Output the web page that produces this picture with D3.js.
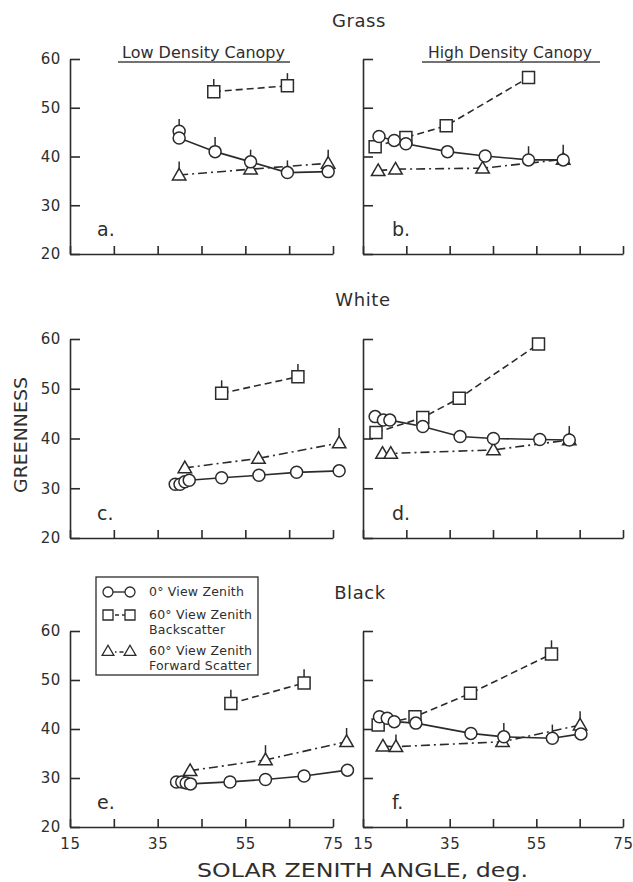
<!DOCTYPE html>
<html>
<head>
<meta charset="utf-8">
<script src="https://cdn.jsdelivr.net/npm/d3@7"></script>
<style>
  body { margin: 0; background: #fff; }
  svg { display: block; }
  text { font-family: "DejaVu Sans", sans-serif; fill: #2e2e2e; }
</style>
</head>
<body>
<svg id="chart" width="633" height="882"></svg>
<script>
// Greenness vs. solar zenith angle for three soil backgrounds (grass, white, black)
// under low and high density canopies. Each point: [solar zenith angle, greenness, error-bar length].

// Grass background
const grassLowNadir = [[39.9, 45.2, 2.5], [39.9, 43.8, 0], [48.1, 41.0, 3.0], [56.2, 38.9, 2.5], [64.6, 36.7, 2.5], [73.9, 36.9, 0]];
const grassLowBack  = [[47.8, 53.3, 2.6], [64.6, 54.5, 2.6]];
const grassLowFwd   = [[39.9, 36.2, 2.8], [56.2, 37.4, 0], [73.9, 38.6, 2.8]];
const grassHighNadir = [[18.7, 44.1, 0], [22.2, 43.3, 0], [24.9, 42.6, 0], [34.5, 41.0, 0], [43.2, 40.1, 0], [53.2, 39.3, 2.8], [61.2, 39.3, 0]];
const grassHighBack  = [[17.8, 42.0, 0], [24.9, 43.9, 0], [34.2, 46.3, 0], [53.2, 56.2, 0]];
const grassHighFwd   = [[18.5, 37.1, 0], [22.5, 37.4, 0], [42.6, 37.6, 0], [61.2, 39.4, 3.0]];

// White background
const whiteLowNadir = [[39.0, 30.8, 0], [40.1, 30.8, 0], [41.2, 31.3, 0], [42.2, 31.6, 0], [49.6, 32.1, 0], [58.1, 32.6, 0], [66.7, 33.2, 0], [76.4, 33.5, 0]];
const whiteLowBack  = [[49.6, 49.1, 2.6], [67.0, 52.4, 2.6]];
const whiteLowFwd   = [[41.2, 34.1, 0], [58.0, 36.0, 0], [76.4, 39.1, 3.0]];
const whiteHighNadir = [[17.8, 44.4, 0], [19.7, 43.7, 0], [21.2, 43.7, 0], [28.8, 42.4, 0], [37.4, 40.4, 0], [45.1, 40.0, 0], [55.8, 39.8, 0], [62.6, 39.7, 0]];
const whiteHighBack  = [[18.0, 41.2, 0], [28.8, 44.2, 0], [37.2, 48.1, 0], [55.5, 59.0, 0]];
const whiteHighFwd   = [[19.5, 37.0, 0], [21.4, 37.0, 0], [45.1, 37.7, 0], [62.6, 39.7, 2.8]];

// Black background
const blackLowNadir = [[39.3, 29.2, 0], [40.5, 29.2, 0], [41.5, 29.0, 0], [42.5, 28.8, 0], [51.5, 29.2, 0], [59.6, 29.7, 0], [68.4, 30.4, 0], [78.3, 31.6, 0]];
const blackLowBack  = [[51.7, 45.2, 2.8], [68.4, 49.4, 2.8]];
const blackLowFwd   = [[42.4, 31.5, 0], [59.6, 33.7, 3.0], [78.1, 37.4, 2.8]];
const blackHighNadir = [[18.8, 42.5, 0], [20.6, 42.2, 0], [22.2, 41.5, 0], [27.2, 41.2, 0], [39.9, 39.1, 0], [47.5, 38.4, 2.8], [58.7, 38.1, 2.8], [65.3, 39.0, 0]];
const blackHighBack  = [[18.5, 40.8, 0], [27.0, 42.5, 0], [39.8, 47.3, 0], [58.5, 55.3, 2.8]];
const blackHighFwd   = [[19.6, 36.5, 0], [22.6, 36.4, 2.5], [47.2, 37.4, 0], [65.1, 40.8, 2.8]];

// Axes
const xDomain = [15, 75];
const yDomain = [20, 60];
const xTicks = [15, 25, 35, 45, 55, 65, 75];
const xTickLabels = [15, 35, 55, 75];
const yTicks = [20, 30, 40, 50, 60];

const rowTitles = ["Grass", "White", "Black"];
const canopyTitles = ["Low Density Canopy", "High Density Canopy"];
const panelLetters = ["a.", "b.", "c.", "d.", "e.", "f."];
const legendLabels = [["0° View Zenith"], ["60° View Zenith", "Backscatter"], ["60° View Zenith", "Forward Scatter"]];

const data = [
  [[grassLowNadir, grassLowBack, grassLowFwd], [grassHighNadir, grassHighBack, grassHighFwd]],
  [[whiteLowNadir, whiteLowBack, whiteLowFwd], [whiteHighNadir, whiteHighBack, whiteHighFwd]],
  [[blackLowNadir, blackLowBack, blackLowFwd], [blackHighNadir, blackHighBack, blackHighFwd]]
];

// Layout
const ink = "#2b2b2b";
const colRange = [[70, 333], [363, 623]];
const rowRange = [[254, 59], [538, 339], [827, 631]];

// Series styles: 0 = nadir (circle, solid), 1 = backscatter (square, dashed), 2 = forward (triangle, dash-dot)
const dashes = [null, "7,4", "9,4,2,4"];
const symbols = [
  d3.symbol().type(d3.symbolCircle).size(Math.PI * 6 * 6),
  d3.symbol().type(d3.symbolSquare).size(12 * 12),
  d3.symbol().type(d3.symbolTriangle).size(78)
];
const drawOrder = [2, 1, 0];

const svg = d3.select("#chart");

rowRange.forEach((yr, r) => {
  colRange.forEach((xr, c) => {
    const x = d3.scaleLinear().domain(xDomain).range(xr);
    const y = d3.scaleLinear().domain(yDomain).range(yr);
    const g = svg.append("g");

    // y axis, ticks pointing into the plot
    const yAxis = d3.axisLeft(y).tickValues(yTicks).tickSizeInner(-10).tickSizeOuter(0).tickPadding(9)
      .tickFormat(c === 0 ? d3.format("d") : () => "");
    const ya = g.append("g").attr("transform", `translate(${xr[0]},0)`).call(yAxis);

    // x axis, ticks pointing up
    const bottom = r === rowRange.length - 1;
    const xAxis = d3.axisBottom(x).tickValues(xTicks).tickSizeInner(-8).tickSizeOuter(0).tickPadding(11)
      .tickFormat(d => (bottom && xTickLabels.includes(d)) ? d : "");
    const xa = g.append("g").attr("transform", `translate(0,${yr[0]})`).call(xAxis);

    [ya, xa].forEach(a => {
      a.selectAll("path, line").attr("stroke", ink).attr("stroke-width", 1.6);
      a.selectAll("text").attr("fill", "#2e2e2e").style("font-size", "15px")
        .style("letter-spacing", "0.6px").style("font-family", "\"DejaVu Sans\", sans-serif");
    });

    const series = data[r][c];
    const line = d3.line().x(d => x(d[0])).y(d => y(d[1]));

    // connecting lines
    drawOrder.forEach(s => {
      g.append("path").datum(series[s]).attr("d", line)
        .attr("fill", "none").attr("stroke", ink).attr("stroke-width", 1.6)
        .attr("stroke-dasharray", dashes[s]);
    });

    // error bars (upper half only)
    drawOrder.forEach(s => {
      g.selectAll(null).data(series[s].filter(d => d[2] > 0)).enter().append("line")
        .attr("x1", d => x(d[0])).attr("x2", d => x(d[0]))
        .attr("y1", d => y(d[1])).attr("y2", d => y(d[1] + d[2]))
        .attr("stroke", ink).attr("stroke-width", 1.5);
    });

    // open markers
    drawOrder.forEach(s => {
      g.selectAll(null).data(series[s]).enter().append("path")
        .attr("d", symbols[s])
        .attr("transform", d => `translate(${x(d[0])},${y(d[1]) + (s === 2 ? 1 : 0)})`)
        .attr("fill", "#fff").attr("stroke", ink).attr("stroke-width", 1.5);
    });

    // panel letter
    g.append("text").attr("x", xr[0] + (c === 0 ? 27 : 29)).attr("y", yr[0] - 18)
      .style("font-size", "19px").text(panelLetters[r * 2 + c]);
  });
});

// row titles
const titleY = [27, 306, 599];
const titleX = [359, 363, 360];
rowTitles.forEach((t, i) => {
  svg.append("text").attr("x", titleX[i]).attr("y", titleY[i]).attr("text-anchor", "middle")
    .style("font-size", "18px").style("letter-spacing", "0.6px").text(t);
});

// canopy headers, underlined
const canopyX = [[122, 285], [428, 592]];
const underline = [[118, 290], [422, 600]];
canopyTitles.forEach((t, i) => {
  svg.append("text").attr("x", canopyX[i][0]).attr("y", 58)
    .attr("textLength", canopyX[i][1] - canopyX[i][0]).attr("lengthAdjust", "spacingAndGlyphs")
    .style("font-size", "15px").text(t);
  svg.append("line").attr("x1", underline[i][0]).attr("x2", underline[i][1])
    .attr("y1", 62).attr("y2", 62).attr("stroke", "#444").attr("stroke-width", 1.3);
});

// axis titles
svg.append("text").attr("transform", "translate(27,435) rotate(-90)").attr("text-anchor", "middle")
  .attr("textLength", 116).attr("lengthAdjust", "spacingAndGlyphs")
  .style("font-size", "17px").text("GREENNESS");
svg.append("text").attr("x", 197).attr("y", 877)
  .attr("textLength", 331).attr("lengthAdjust", "spacingAndGlyphs")
  .style("font-size", "20px").text("SOLAR ZENITH ANGLE, deg.");

// legend
const lg = svg.append("g");
lg.append("rect").attr("x", 96).attr("y", 577).attr("width", 162).attr("height", 98)
  .attr("fill", "#fff").attr("stroke", ink).attr("stroke-width", 1.3);
const legendSymY = [592, 615, 652];
const legendTextY = [[596], [619, 634], [655, 670]];
legendLabels.forEach((lab, i) => {
  const sy = legendSymY[i];
  lg.append("line").attr("x1", 108).attr("x2", 130).attr("y1", sy).attr("y2", sy)
    .attr("stroke", ink).attr("stroke-width", 1.4).attr("stroke-dasharray", i === 0 ? null : (i === 1 ? "4,3" : "4,3,1.5,3"));
  [108, 130].forEach(px => {
    lg.append("path").attr("d", d3.symbol().type([d3.symbolCircle, d3.symbolSquare, d3.symbolTriangle][i])
        .size([Math.PI * 25, 100, 60][i]))
      .attr("transform", `translate(${px},${sy})`)
      .attr("fill", "#fff").attr("stroke", ink).attr("stroke-width", 1.3);
  });
  lab.forEach((t, k) => {
    lg.append("text").attr("x", 149).attr("y", legendTextY[i][k])
      .style("font-size", "12.5px").style("letter-spacing", "0.2px").text(t);
  });
});
</script>
</body>
</html>
